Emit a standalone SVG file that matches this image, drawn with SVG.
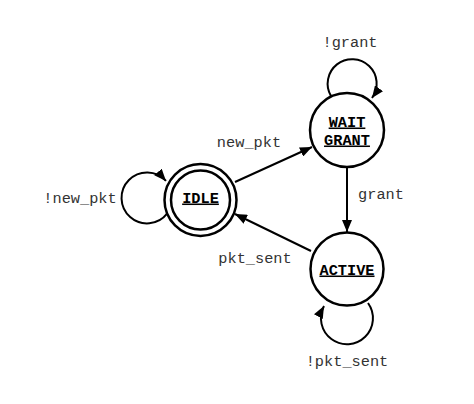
<svg xmlns="http://www.w3.org/2000/svg" width="474" height="404" viewBox="0 0 474 404">
<defs>
<style>
.state{fill:#fff;stroke:#000;stroke-width:2.5}
.edge{fill:none;stroke:#000;stroke-width:2}
.lbl{font-family:"Liberation Mono","Courier New",monospace;font-size:15.3px;fill:#333;text-anchor:middle}
.name{font-family:"Liberation Mono","Courier New",monospace;font-size:15.3px;font-weight:bold;fill:#000;text-anchor:middle;text-decoration:underline}
</style>
<marker id="arr" markerUnits="userSpaceOnUse" markerWidth="13" markerHeight="10" refX="12" refY="5" orient="auto">
<path d="M0,0 L12,5 L0,10 Z" fill="#000"/>
</marker>
</defs>
<rect width="474" height="404" fill="#fff"/>
<g id="connectors">
<path class="edge" d="M235,182 L312,147" marker-end="url(#arr)"/>
<path class="edge" d="M311,251 L235,214" marker-end="url(#arr)"/>
<path class="edge" d="M347,167 L347,232" marker-end="url(#arr)"/>
<path class="edge" d="M167.1,213.7 A25.5 25.5 0 1 1 166,180.9" marker-end="url(#arr)"/>
<path class="edge" d="M331,96 A24.5 24.5 0 1 1 372,98" marker-end="url(#arr)"/>
<path class="edge" d="M368,303 A26 26 0 1 1 324,306" marker-end="url(#arr)"/>
<text class="lbl" x="249" y="147">new_pkt</text>
<text class="lbl" x="255" y="263">pkt_sent</text>
<text class="lbl" x="381" y="199">grant</text>
<text class="lbl" x="350" y="47">!grant</text>
<text class="lbl" x="80" y="203">!new_pkt</text>
<text class="lbl" x="347" y="366">!pkt_sent</text>
</g>
<g id="idle">
<circle class="state" cx="200.5" cy="200" r="36"/>
<circle class="state" cx="200.5" cy="200" r="29.5"/>
<text class="name" x="200.5" y="202.5">IDLE</text>
</g>
<g id="wait_grant">
<circle class="state" cx="347" cy="130" r="37"/>
<text class="name" x="347" y="126.5">WAIT</text>
<text class="name" x="347" y="144.5">GRANT</text>
</g>
<g id="active">
<circle class="state" cx="347" cy="269" r="36.5"/>
<text class="name" x="347" y="274.5">ACTIVE</text>
</g>
</svg>
